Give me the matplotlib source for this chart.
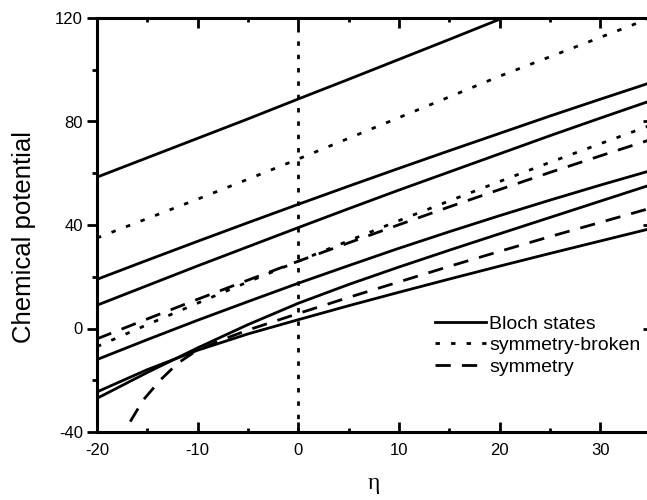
import matplotlib
matplotlib.use('Agg')
import matplotlib.pyplot as plt
from matplotlib.lines import Line2D

# ---------------- data ----------------
eta = [-20, -15, -10, -5, 0, 5, 10, 15, 20, 25, 30, 35]

# Bloch states (solid)
bloch_1 = [58.5, 66.0, 73.5, 81.0, 88.7, 96.3, 104.0, 111.7, 119.5, 127.0, 134.5, 142.0]
bloch_2 = [19.0, 26.4, 33.7, 40.9, 48.0, 55.0, 61.9, 68.7, 75.4, 82.1, 88.6, 95.0]
bloch_3 = [9.0, 16.6, 24.2, 31.6, 39.0, 46.3, 53.5, 60.5, 67.5, 74.5, 81.3, 88.0]
bloch_4 = [-12.0, -4.3, 3.2, 10.4, 17.5, 24.3, 31.0, 37.4, 43.6, 49.6, 55.4, 61.0]
bloch_5 = [-27.0, -17.0, -7.5, 1.5, 9.75, 17.0, 23.75, 30.25, 36.6, 42.9, 49.2, 55.5]
bloch_6 = [-24.5, -15.9, -8.4, -2.1, 3.4, 8.8, 14.0, 19.1, 24.1, 29.0, 33.8, 38.6]

# symmetry-broken (dotted)
broken_1 = [35.0, 42.5, 50.0, 57.7, 65.5, 73.5, 81.5, 89.5, 97.5, 105.0, 112.5, 120.0]
broken_2 = [-7.0, 1.5, 9.8, 18.0, 26.0, 33.9, 41.7, 49.3, 56.8, 64.2, 71.4, 78.5]

# symmetry (dashed)
sym_1 = [-4.0, 3.7, 11.3, 18.7, 26.0, 33.1, 40.1, 47.0, 53.7, 60.3, 66.7, 73.0]
eta_sym_low = [-16.7, -15.4, -13.7, -12.0, -10.4, -8.0, -5.0, 0, 5, 10, 15, 20, 25, 30, 35]
sym_low = [-36.0, -27.6, -19.9, -13.5, -9.3, -5.0, -0.6, 5.8, 12.0, 18.0, 24.0, 29.8, 35.5, 41.0, 46.5]

eta_marker = 0  # vertical dotted line

x_ticks = [-20, -10, 0, 10, 20, 30]
x_minor = [-15, -5, 5, 15, 25, 35]
y_ticks = [-40, 0, 40, 80, 120]
y_minor = [-20, 20, 60, 100]
legend_labels = ["Bloch states", "symmetry-broken", "symmetry"]

# ---------------- styling ----------------
plt.rcParams['font.family'] = ['Liberation Sans', 'DejaVu Sans']
plt.rcParams['axes.unicode_minus'] = False

W, H = 647, 500
fig = plt.figure(figsize=(W / 100, H / 100), dpi=100)
left, right, top, bottom = 97, 650.5, 18, 432
ax = fig.add_axes([left / W, 1 - bottom / H, (right - left) / W, (bottom - top) / H])

LW = 2.0
solid = '-'
dotted = (0, (1.6, 4.0))
dashed = (0, (5.5, 4.0))
col = 'black'

for y in [bloch_1, bloch_2, bloch_3, bloch_4, bloch_5, bloch_6]:
    ax.plot(eta, y, color=col, lw=LW, ls=solid)
for y in [broken_1, broken_2]:
    ax.plot(eta, y, color=col, lw=LW, ls=dotted)
ax.plot(eta, sym_1, color=col, lw=LW, ls=dashed)
ax.plot(eta_sym_low, sym_low, color=col, lw=LW, ls=dashed)

ax.axvline(eta_marker, color=col, lw=LW, ls=(0, (1.6, 3.2)))

ax.set_xlim(-20, 35)
ax.set_ylim(-40, 120)
ax.set_xticks(x_ticks)
ax.set_xticks(x_minor, minor=True)
ax.set_yticks(y_ticks)
ax.set_yticks(y_minor, minor=True)

for s in ax.spines.values():
    s.set_linewidth(2.2)

ax.tick_params(axis='x', which='both', direction='in', top=True, bottom=True,
               width=2, labelsize=12, pad=8)
ax.tick_params(axis='x', which='major', length=7)
ax.tick_params(axis='x', which='minor', length=3)
ax.tick_params(axis='y', which='both', direction='out', left=True, right=False,
               width=2, labelsize=12, pad=3)
ax.tick_params(axis='y', which='major', length=7)
ax.tick_params(axis='y', which='minor', length=3.5)

sec = ax.secondary_yaxis('right')
sec.set_yticks(y_ticks)
sec.set_yticks(y_minor, minor=True)
sec.tick_params(axis='y', which='both', direction='in', width=2, labelright=False)
sec.tick_params(axis='y', which='major', length=6)
sec.tick_params(axis='y', which='minor', length=3)
sec.spines['right'].set_linewidth(2.2)

ax.set_ylabel("Chemical potential", fontsize=18.5)
ax.yaxis.set_label_coords(-0.11, 0.47)
ax.set_xlabel("η", fontsize=17, family=['Liberation Serif', 'DejaVu Serif'])
ax.xaxis.set_label_coords(0.5, -0.1)

handles = [Line2D([], [], color=col, lw=LW, ls=solid),
           Line2D([], [], color=col, lw=LW, ls=dotted),
           Line2D([], [], color=col, lw=LW, ls=dashed)]
ax.legend(handles, legend_labels, loc='upper left',
          bbox_to_anchor=(435 / W, 1 - 315 / H), bbox_transform=fig.transFigure,
          frameon=False, borderaxespad=0, borderpad=0, fontsize=14,
          handlelength=2.6, handletextpad=0.2, labelspacing=0.2)

fig.savefig("out.png", dpi=100)
